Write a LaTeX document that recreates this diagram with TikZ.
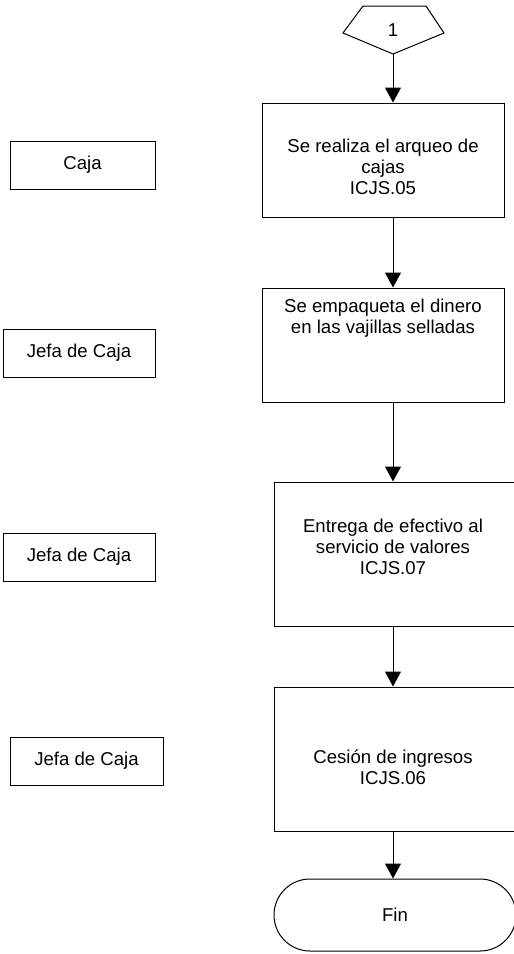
\documentclass[tikz,border=0pt]{standalone}
\usepackage{fontspec}
\setmainfont{Liberation Sans}
\usepackage{tikz}
\usetikzlibrary{arrows.meta,%
                shapes.misc,positioning}

\tikzset{
  stepbox/.style={draw, line width=0.5pt, minimum width=121pt, inner sep=0pt},
  rolebox/.style={draw, line width=0.5pt, minimum height=24pt, inner sep=0pt},
  steptext/.style={align=center, inner sep=0pt},
  flow/.style={line width=0.5pt, -{Triangle[width=8pt,length=7.5pt]}}
}

\begin{document}
\begin{tikzpicture}[x=0.5pt,y=-0.5pt,font=\fontsize{9.3}{10.6}\selectfont]
\useasboundingbox (0,0) rectangle (514,954);
% conector de pagina
\draw[line width=0.5pt] (363,6) -- (426,6) -- (444,33) -- (393,54) -- (343,33) -- cycle;
\coordinate (con) at (393,54);
\node (con1) at (393,30) {1};
% actividades
\node[stepbox, minimum height=57pt] (arqueo) at (383,160) {};
\node[steptext] (arqueoT) at (383,167) {Se realiza el arqueo de\\cajas\\ICJS.05};
\node[stepbox, minimum height=57pt] (empaque) at (383,345) {};
\node[steptext] (empaqueT) at (383,318) {Se empaqueta el dinero\\en las vajillas selladas};
\node[stepbox, minimum height=72pt] (entrega) at (395,554) {};
\node[steptext] (entregaT) at (393,547) {Entrega de efectivo al\\servicio de valores\\ICJS.07};
\node[stepbox, minimum height=72pt] (cesion) at (395,759) {};
\node[steptext] (cesionT) at (393,767) {Cesión de ingresos\\ICJS.06};
\node[draw, line width=0.5pt, rounded rectangle, minimum width=121pt, minimum height=36pt, inner sep=0pt] (fin) at (395,915) {Fin};
% responsables
\node[rolebox, minimum width=72.5pt] (caja) at (82.5,165) {Caja};
\node[rolebox, minimum width=76pt] (jefa1) at (79,353) {Jefa de Caja};
\node[rolebox, minimum width=76pt] (jefa2) at (79,557) {Jefa de Caja};
\node[rolebox, minimum width=76.5pt] (jefa3) at (86.5,761) {Jefa de Caja};
% flechas
\draw[flow] (con) -- (arqueo.north -| con);
\draw[flow] (arqueo.south -| con) -- (empaque.north -| con);
\draw[flow] (empaque.south -| con) -- (entrega.north -| con);
\draw[flow] (entrega.south -| con) -- (cesion.north -| con);
\draw[flow] (cesion.south -| con) -- (fin.north -| con);
\end{tikzpicture}
\end{document}
